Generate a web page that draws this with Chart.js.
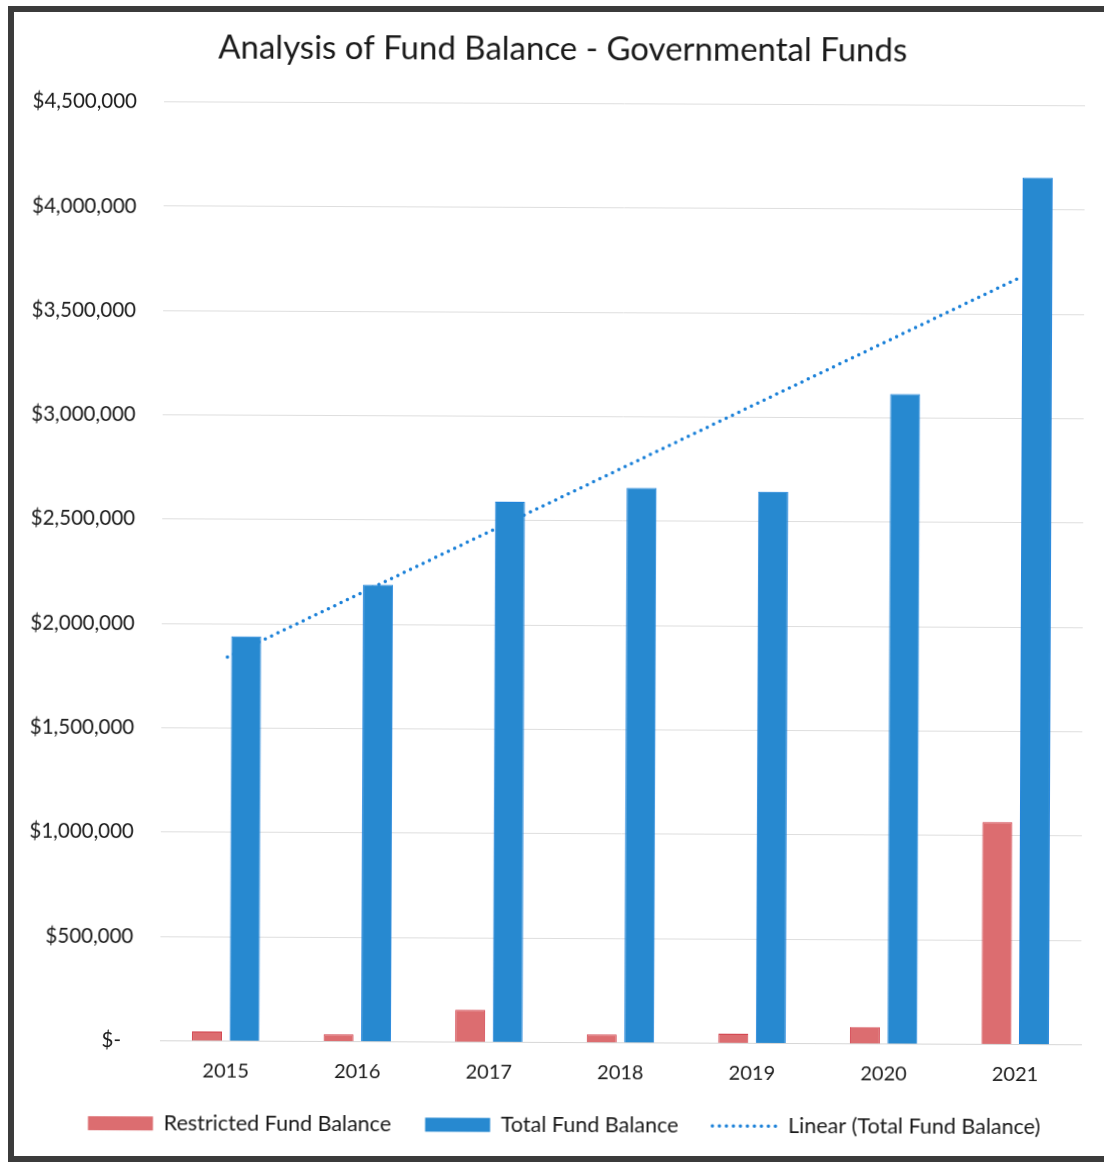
<!DOCTYPE html>
<html>
<head>
<meta charset="utf-8">
<title>Analysis of Fund Balance - Governmental Funds</title>
<script src="https://cdn.jsdelivr.net/npm/chart.js@4.4.1/dist/chart.umd.min.js"></script>
<style>
  html, body { margin: 0; padding: 0; background: #fff; overflow: hidden; }
  body { width: 1104px; height: 1162px; position: relative; }
  .marco {
    position: absolute; left: 8px; top: 6px; width: 1120px; height: 1144px;
    border: 6px solid #3b3b3b; border-right: none;
  }
  .grafico {
    position: absolute; left: 14px; top: 12px; width: 1090px; height: 1143px;
    transform: rotate(0.25deg); transform-origin: 545px 560px;
  }
</style>
</head>
<body>
<div class="marco"></div>
<div class="grafico"><canvas id="fondos" width="1090" height="1143"></canvas></div>
<script>
// Datos del gráfico
const anios = ['2015', '2016', '2017', '2018', '2019', '2020', '2021'];
const restringido = [45000, 35000, 155000, 40000, 45000, 80000, 1065000];
const total = [1940000, 2190000, 2590000, 2660000, 2645000, 3115000, 4155000];
const ticksY = [0, 500000, 1000000, 1500000, 2000000, 2500000, 3000000, 3500000, 4000000, 4500000];

// Tendencia lineal (mínimos cuadrados) sobre el saldo total
function tendenciaLineal(valores) {
  const n = valores.length;
  const mx = (n - 1) / 2;
  const my = valores.reduce((a, b) => a + b, 0) / n;
  let num = 0, den = 0;
  valores.forEach((v, i) => { num += (i - mx) * (v - my); den += (i - mx) * (i - mx); });
  const m = num / den;
  return valores.map((_, i) => my + m * (i - mx));
}
const tendencia = tendenciaLineal(total);

const fuente = "Lato, 'Open Sans', sans-serif";
const punteado = [0, 7];
const ctx = document.getElementById('fondos').getContext('2d');

// Corre el título y la leyenda un poco a la derecha, centrados sobre el área del gráfico
const desplazarBloques = {
  id: 'desplazarBloques',
  afterLayout(chart) {
    if (chart.titleBlock) { chart.titleBlock.left += 12; chart.titleBlock.right += 12; }
    if (chart.legend) { chart.legend.left += 18; chart.legend.right += 18; }
  }
};

new Chart(ctx, {
  type: 'bar',
  data: {
    labels: anios,
    datasets: [{
      label: 'Restricted Fund Balance',
      data: restringido,
      backgroundColor: '#dc6d70',
      borderColor: '#d2404b',
      borderWidth: 1,
      categoryPercentage: 0.57,
      barPercentage: 0.8
    }, {
      label: 'Total Fund Balance',
      data: total,
      backgroundColor: '#2789d0',
      borderColor: '#1d82dc',
      borderWidth: 1,
      categoryPercentage: 0.57,
      barPercentage: 0.8
    }, {
      type: 'line',
      label: 'Linear (Total Fund Balance)',
      data: tendencia,
      borderColor: '#1a80d8',
      borderWidth: 3.5,
      borderDash: punteado,
      borderCapStyle: 'round',
      pointRadius: 0,
      fill: false
    }]
  },
  plugins: [desplazarBloques],
  options: {
    responsive: false,
    animation: false,
    layout: { padding: { left: 0, right: 21, top: 0, bottom: 9 } },
    plugins: {
      title: {
        display: true,
        text: 'Analysis of Fund Balance - Governmental Funds',
        color: '#1a1a1a',
        font: { family: fuente, size: 33, weight: 'normal' },
        padding: { top: 18, bottom: 34 }
      },
      legend: {
        position: 'bottom',
        labels: {
          color: '#1a1a1a',
          font: { family: fuente, size: 21.5 },
          usePointStyle: true,
          pointStyleWidth: 65,
          boxHeight: 14,
          padding: 34,
          generateLabels(chart) {
            const items = Chart.defaults.plugins.legend.labels.generateLabels(chart);
            items.forEach(it => {
              if (it.datasetIndex === 2) {
                const ds = chart.data.datasets[2];
                it.pointStyle = 'line';
                it.strokeStyle = ds.borderColor;
                it.lineWidth = ds.borderWidth;
                it.lineDash = ds.borderDash;
                it.lineCap = ds.borderCapStyle;
              } else {
                it.pointStyle = 'rect';
                it.lineWidth = 0;
              }
            });
            return items;
          }
        }
      },
      tooltip: { enabled: false }
    },
    scales: {
      x: {
        afterFit(scale) { scale.height -= 22; },
        grid: { display: false, drawTicks: false },
        border: { display: true, color: '#d6d6d6', width: 1 },
        ticks: { color: '#1a1a1a', font: { family: fuente, size: 20 }, padding: 18 }
      },
      y: {
        min: 0,
        max: 4500000,
        afterFit(scale) { scale.width = 148; },
        afterBuildTicks(scale) { scale.ticks = ticksY.map(v => ({ value: v })); },
        grid: { color: '#dedede', lineWidth: 1, drawTicks: false },
        border: { display: false },
        ticks: {
          color: '#1a1a1a',
          font: { family: fuente, size: 20.5 },
          padding: 27,
          callback: v => v === 0 ? '$-\u2007' : '$' + v.toLocaleString('en-US')
        }
      }
    }
  }
});
</script>
</body>
</html>
